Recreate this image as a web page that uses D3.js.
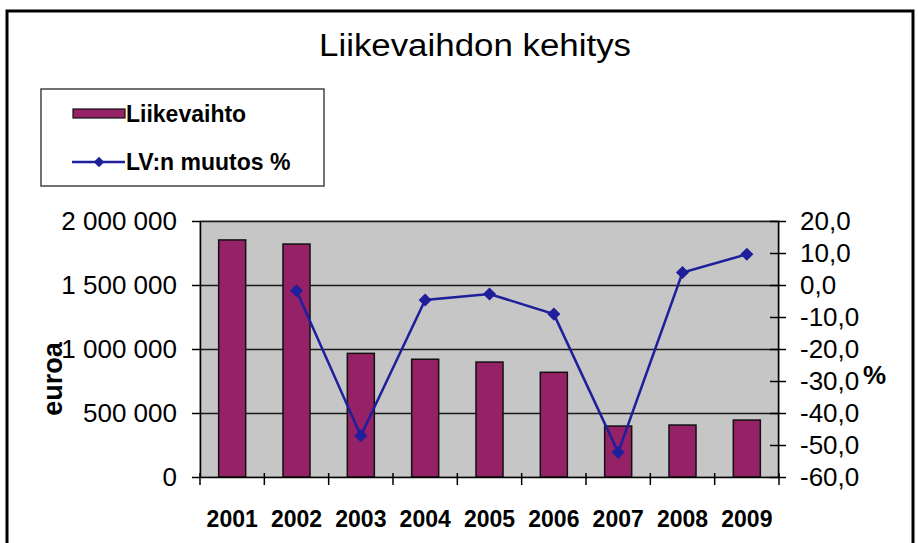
<!DOCTYPE html>
<html>
<head>
<meta charset="utf-8">
<script src="https://cdn.jsdelivr.net/npm/d3@7"></script>
<style>
  html, body { margin: 0; padding: 0; background: #fff; }
  svg { display: block; }
  text { font-family: Arial, "Liberation Sans", sans-serif; fill: #000; }
</style>
</head>
<body>
<svg id="chart" width="918" height="543"></svg>
<script>
// ---- data ----
const years = ["2001", "2002", "2003", "2004", "2005", "2006", "2007", "2008", "2009"];
const revenue = [1852000, 1820000, 966000, 920000, 898000, 818000, 398000, 406000, 445000];
const changePct = [null, -1.8, -47.1, -4.7, -2.8, -9.1, -52.3, 3.9, 9.6];
const leftTicks = [0, 500000, 1000000, 1500000, 2000000];
const rightTicks = [-60, -50, -40, -30, -20, -10, 0, 10, 20];
const titleText = "Liikevaihdon kehitys";
const barLabel = "Liikevaihto";
const lineLabel = "LV:n muutos %";
const leftAxisLabel = "euroa";
const rightAxisLabel = "%";

// ---- layout ----
const plot = { left: 200, right: 779, top: 221, bottom: 477 };
const barColor = "#952266";
const lineColor = "#1f1f9c";
const plotBg = "#c6c6c6";
const fontFam = "Arial, 'Liberation Sans', sans-serif";

const svg = d3.select("#chart");

// outer frame
svg.append("rect").attr("x", 0).attr("y", 0).attr("width", 918).attr("height", 543).attr("fill", "#fff");
svg.append("rect")
  .attr("x", 7).attr("y", 11).attr("width", 906).attr("height", 545)
  .attr("fill", "#fff").attr("stroke", "#000").attr("stroke-width", 3);

// scales
const x = d3.scaleBand().domain(years).range([plot.left, plot.right]).paddingInner(0).paddingOuter(0);
const yL = d3.scaleLinear().domain([0, 2000000]).range([plot.bottom, plot.top]);
const yR = d3.scaleLinear().domain([-60, 20]).range([plot.bottom, plot.top]);

// plot background
svg.append("rect")
  .attr("x", plot.left).attr("y", plot.top)
  .attr("width", plot.right - plot.left).attr("height", plot.bottom - plot.top)
  .attr("fill", plotBg).attr("stroke", "#808080").attr("stroke-width", 1);

// gridlines
svg.append("g").selectAll("line")
  .data(leftTicks.filter(d => d > 0))
  .join("line")
  .attr("x1", plot.left).attr("x2", plot.right)
  .attr("y1", d => Math.round(yL(d)) + 0.5).attr("y2", d => Math.round(yL(d)) + 0.5)
  .attr("stroke", "#1a1a1a").attr("stroke-width", 1.5);

// title
svg.append("text")
  .attr("x", 475).attr("y", 56)
  .attr("text-anchor", "middle")
  .attr("font-size", 31)
  .attr("textLength", 312).attr("lengthAdjust", "spacingAndGlyphs")
  .text(titleText);

// bars
const bw = x.bandwidth() * 0.42;
svg.append("g").selectAll("rect")
  .data(years.map((y, i) => ({ y, v: revenue[i] })))
  .join("rect")
  .attr("x", d => x(d.y) + x.bandwidth() / 2 - bw / 2)
  .attr("y", d => yL(d.v))
  .attr("width", bw)
  .attr("height", d => yL(0) - yL(d.v))
  .attr("fill", barColor)
  .attr("stroke", "#111").attr("stroke-width", 1.5);

// line
const lineData = years.map((y, i) => ({ y, v: changePct[i] })).filter(d => d.v !== null);
const line = d3.line().x(d => x(d.y) + x.bandwidth() / 2).y(d => yR(d.v));
svg.append("path")
  .datum(lineData)
  .attr("d", line)
  .attr("fill", "none").attr("stroke", lineColor).attr("stroke-width", 2.5);
const diamond = d3.symbol().type(d3.symbolDiamond2).size(110);
svg.append("g").selectAll("path")
  .data(lineData)
  .join("path")
  .attr("d", diamond)
  .attr("transform", d => `translate(${x(d.y) + x.bandwidth() / 2},${yR(d.v)})`)
  .attr("fill", lineColor);

// left axis
const fmtL = v => v === 0 ? "0" : d3.format(",")(v).replace(/,/g, " ");
const gL = svg.append("g").attr("transform", `translate(${plot.left},0)`)
  .call(d3.axisLeft(yL).tickValues(leftTicks).tickFormat(fmtL).tickSizeInner(8).tickSizeOuter(0).tickPadding(15));
gL.select(".domain").attr("stroke", "#000").attr("stroke-width", 1.5);
gL.selectAll(".tick line").attr("stroke", "#000").attr("stroke-width", 1.5);
gL.selectAll(".tick text").attr("font-size", 26).attr("font-family", fontFam).attr("fill", "#000");

// right axis
const fmtR = v => d3.format(".1f")(v).replace(".", ",").replace("−", "-");
const gR = svg.append("g").attr("transform", `translate(${plot.right - 1},0)`)
  .call(d3.axisRight(yR).tickValues(rightTicks).tickFormat(fmtR).tickSizeInner(8).tickSizeOuter(0).tickPadding(14));
gR.select(".domain").attr("stroke", "#000").attr("stroke-width", 1.5);
gR.selectAll(".tick line").attr("stroke", "#000").attr("stroke-width", 1.5).attr("x1", -8);
gR.selectAll(".tick text").attr("font-size", 26).attr("font-family", fontFam).attr("fill", "#000");

// x axis
const gX = svg.append("g").attr("transform", `translate(0,${plot.bottom})`)
  .call(d3.axisBottom(x).tickSize(0).tickPadding(34));
gX.select(".domain").attr("stroke", "#000").attr("stroke-width", 1.5);
gX.selectAll(".tick text").attr("font-size", 23).attr("font-weight", "bold").attr("font-family", fontFam).attr("fill", "#000");
// category boundary ticks
const bounds = years.map(y => x(y)).concat([x(years[years.length - 1]) + x.bandwidth()]);
svg.append("g").selectAll("line")
  .data(bounds)
  .join("line")
  .attr("x1", d => d).attr("x2", d => d)
  .attr("y1", plot.bottom - 4).attr("y2", plot.bottom + 8)
  .attr("stroke", "#000").attr("stroke-width", 1.5);

// axis titles
svg.append("text")
  .attr("transform", `translate(62,379) rotate(-90)`)
  .attr("text-anchor", "middle")
  .attr("font-size", 27).attr("font-weight", "bold")
  .text(leftAxisLabel);
svg.append("text")
  .attr("x", 863).attr("y", 384)
  .attr("font-size", 26).attr("font-weight", "bold")
  .text(rightAxisLabel);

// legend
const lg = svg.append("g");
lg.append("rect").attr("x", 41).attr("y", 89).attr("width", 283).attr("height", 97)
  .attr("fill", "#fff").attr("stroke", "#444").attr("stroke-width", 1.5);
lg.append("rect").attr("x", 73).attr("y", 109).attr("width", 52).attr("height", 9)
  .attr("fill", barColor).attr("stroke", "#111").attr("stroke-width", 1.2);
lg.append("text").attr("x", 126).attr("y", 122).attr("font-size", 23).attr("font-weight", "bold").text(barLabel);
lg.append("line").attr("x1", 72).attr("x2", 125).attr("y1", 162).attr("y2", 162)
  .attr("stroke", lineColor).attr("stroke-width", 2.5);
lg.append("path").attr("d", d3.symbol().type(d3.symbolDiamond2).size(70)())
  .attr("transform", "translate(99,162)").attr("fill", lineColor);
lg.append("text").attr("x", 126).attr("y", 170).attr("font-size", 23).attr("font-weight", "bold").text(lineLabel);
</script>
</body>
</html>
